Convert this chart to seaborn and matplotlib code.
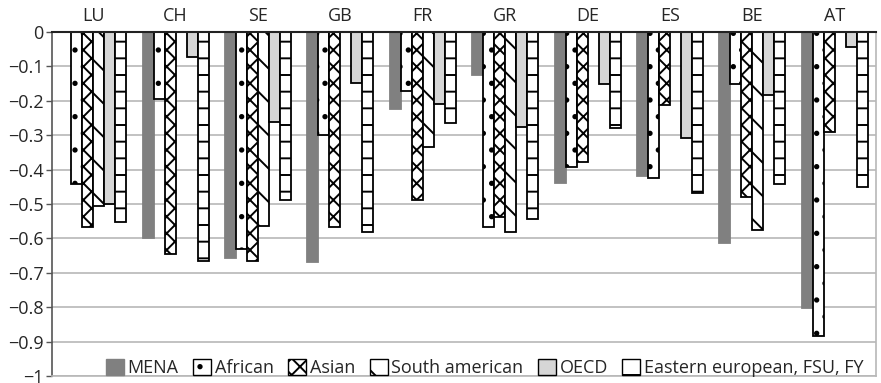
import numpy as np
import pandas as pd
import matplotlib
matplotlib.use("Agg")
import matplotlib.pyplot as plt
from matplotlib.patches import Patch
from matplotlib.ticker import FuncFormatter, MultipleLocator
import seaborn as sns

countries = ["LU", "CH", "SE", "GB", "FR", "GR", "DE", "ES", "BE", "AT"]
groups = ["MENA", "African", "Asian", "South american", "OECD", "Eastern european, FSU, FY"]

mena      = [0.0,   -0.600, -0.656, -0.669, -0.225, -0.125, -0.440, -0.418, -0.614, -0.802]
african   = [-0.442, -0.196, -0.630, -0.300, -0.172, -0.566, -0.391, -0.424, -0.151, -0.884]
asian     = [-0.567, -0.645, -0.667, -0.567, -0.488, -0.537, -0.378, -0.213, -0.481, -0.291]
s_american = [-0.506, 0.0,  -0.564, 0.0,   -0.334, -0.582, 0.0,    0.0,    -0.576, 0.0]
oecd      = [-0.500, -0.073, -0.262, -0.148, -0.210, -0.275, -0.151, -0.308, -0.182, -0.044]
eastern   = [-0.553, -0.665, -0.488, -0.580, -0.265, -0.543, -0.278, -0.469, -0.443, -0.451]

series = [mena, african, asian, s_american, oecd, eastern]
rows = []
for g, vals in zip(groups, series):
    for c, v in zip(countries, vals):
        rows.append({"country": c, "group": g, "value": v})
df = pd.DataFrame(rows)

sns.set_style("white")
plt.rcParams["font.family"] = ["Open Sans", "DejaVu Sans"]
plt.rcParams["hatch.linewidth"] = 1.4

face = ["#808080", "white", "white", "white", "#d6d6d6", "white"]
hatches = [None, ".", "xx", "\\", None, "-"]
edges = ["#808080", "black", "black", "black", "black", "black"]

fig = plt.figure(figsize=(8.81, 3.83), dpi=100)
ax = fig.add_axes([52/881, 1-376/383, (876-52)/881, (376-32)/383])

sns.barplot(data=df, x="country", y="value", hue="group", order=countries,
            hue_order=groups, palette=face, width=0.8, saturation=1,
            edgecolor="black", linewidth=1.3, legend=False, ax=ax, zorder=3)

for cont, fc, h, ec in zip(ax.containers, face, hatches, edges):
    for p in cont:
        p.set_facecolor(fc)
        p.set_edgecolor(ec)
        if h:
            p.set_hatch(h)

ax.set_ylim(-1, 0)
ax.yaxis.set_major_locator(MultipleLocator(0.1))
def fmt(v, pos):
    if abs(v) < 1e-9:
        return "0"
    s = f"{abs(v):.1f}"
    if s == "1.0":
        s = "1"
    return "\u2212" + s
ax.yaxis.set_major_formatter(FuncFormatter(fmt))
ax.grid(axis="y", color="#b8b8b8", linewidth=1.2, zorder=0)
ax.set_axisbelow(True)
ax.xaxis.tick_top()
ax.tick_params(axis="x", length=0, pad=5, labelsize=13)
ax.tick_params(axis="y", length=4, width=1, color="#555555", labelsize=13, pad=2, left=True)
ax.set_xlabel("")
ax.set_ylabel("")

ax.spines["top"].set_color("#222222")
ax.spines["top"].set_linewidth(1.5)
ax.spines["top"].set_zorder(5)
ax.spines["left"].set_color("#555555")
ax.spines["left"].set_linewidth(1.2)
ax.spines["right"].set_color("#b8b8b8")
ax.spines["right"].set_linewidth(1.2)
ax.spines["bottom"].set_color("#b8b8b8")
ax.spines["bottom"].set_linewidth(1.2)

handles = [Patch(facecolor=fc, edgecolor="black" if i else fc, hatch=h, linewidth=1.0, label=g)
           for i, (fc, h, g) in enumerate(zip(face, hatches, groups))]
leg = ax.legend(handles=handles, ncol=6, loc="lower right", bbox_to_anchor=(0.998, -0.035),
                frameon=False, fontsize=13, handlelength=1.0, handleheight=1.0,
                handletextpad=0.2, columnspacing=0.8, borderaxespad=0.2)

fig.savefig("out.png", dpi=100)
